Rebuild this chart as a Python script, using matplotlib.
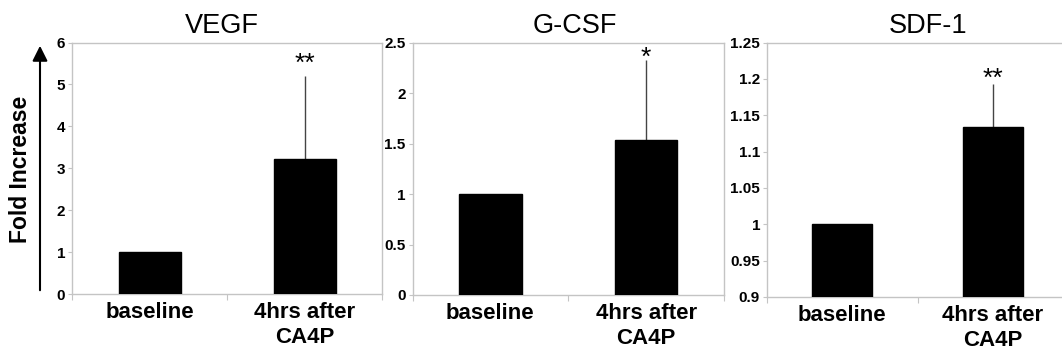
import matplotlib
matplotlib.use("Agg")
import matplotlib.pyplot as plt
from matplotlib import font_manager
from matplotlib.patches import FancyArrowPatch

# ---- data ----
categories = ["baseline", "4hrs after\nCA4P"]
titles = ["VEGF", "G-CSF", "SDF-1"]
vegf = [1.0, 3.21]
vegf_err = [0.0, 1.99]
gcsf = [1.0, 1.535]
gcsf_err = [0.0, 0.795]
sdf1 = [1.0, 1.134]
sdf1_err = [0.0, 0.059]
stars = ["**", "*", "**"]
ylims = [(0, 6), (0, 2.5), (0.9, 1.25)]
yticks = [[0, 1, 2, 3, 4, 5, 6],
          [0, 0.5, 1, 1.5, 2, 2.5],
          [0.9, 0.95, 1, 1.05, 1.1, 1.15, 1.2, 1.25]]
ytick_labels = [["0", "1", "2", "3", "4", "5", "6"],
                ["0", "0.5", "1", "1.5", "2", "2.5"],
                ["0.9", "0.95", "1", "1.05", "1.1", "1.15", "1.2", "1.25"]]
ylabel = "Fold Increase"

values = [vegf, gcsf, sdf1]
errors = [vegf_err, gcsf_err, sdf1_err]

W, H = 1062, 354
fig = plt.figure(figsize=(W / 100, H / 100), dpi=100)

# axes boxes in pixels: left, right, top, bottom
boxes = [(72, 382, 42.5, 294), (412.5, 724, 42.5, 295), (767, 1068, 42.5, 297)]
title_x = [222, 575, 928]
star_offset = [0, -7, -5]   # points

GRAY = "#c4c4c4"
available = {f.name for f in font_manager.fontManager.ttflist}
if "Liberation Sans Narrow" in available:
    tick_font, tick_size = "Liberation Sans Narrow", 13
else:
    tick_font, tick_size = "Liberation Sans", 11

for i in range(3):
    l, r, t, b = boxes[i]
    ax = fig.add_axes([l / W, 1 - b / H, (r - l) / W, (b - t) / H])
    x = list(range(len(categories)))
    ax.bar(x, values[i], width=0.4, color="black", edgecolor="black", zorder=3)
    ax.errorbar([x[1]], [values[i][1]], yerr=[[0], [errors[i][1]]], fmt="none",
                ecolor="#444444", elinewidth=1.0, capsize=0, zorder=2)
    top = values[i][1] + errors[i][1]
    ax.annotate(stars[i], xy=(x[1], top), xytext=(0, star_offset[i]),
                textcoords="offset points", ha="center", va="bottom",
                fontsize=19, fontfamily="Liberation Sans")
    ax.set_xlim(-0.5, 1.5)
    ax.set_ylim(*ylims[i])
    ax.tick_params(axis="x", which="minor", length=0, pad=6)
    ax.tick_params(axis="x", which="major", length=4, color=GRAY, direction="out")
    ax.tick_params(axis="y", length=3, color=GRAY, direction="out", pad=2,
                   labelsize=tick_size)
    ax.set_yticks(yticks[i])
    ax.set_yticklabels(ytick_labels[i])
    for lab in ax.get_yticklabels():
        lab.set_fontfamily(tick_font)
        lab.set_fontweight("bold")
        lab.set_fontsize(tick_size)
    ax.set_xticks([-0.5, 0.5, 1.5])
    ax.set_xticklabels([])
    ax.set_xticks(x, minor=True)
    ax.set_xticklabels(categories, minor=True, fontsize=16, fontweight="bold",
                       fontfamily="Liberation Sans", linespacing=1.2)
    for s in ax.spines.values():
        s.set_color(GRAY)
        s.set_linewidth(1.0)
    fig.text(title_x[i] / W, 1 - 33 / H, titles[i], ha="center", va="baseline",
             fontsize=19.5, fontfamily="Liberation Sans")

fig.text(21 / W, 1 - 169 / H, ylabel, rotation=90, ha="center", va="center",
         fontsize=16.5, fontweight="bold", fontfamily="Liberation Sans")
arrow = FancyArrowPatch((40 / W, 1 - 293 / H), (40 / W, 1 - 43 / H),
                        transform=fig.transFigure,
                        arrowstyle="-|>,head_length=7,head_width=3.5",
                        color="black", lw=1.5, mutation_scale=1.3)
fig.patches.append(arrow)

fig.savefig("out.png", dpi=100)
